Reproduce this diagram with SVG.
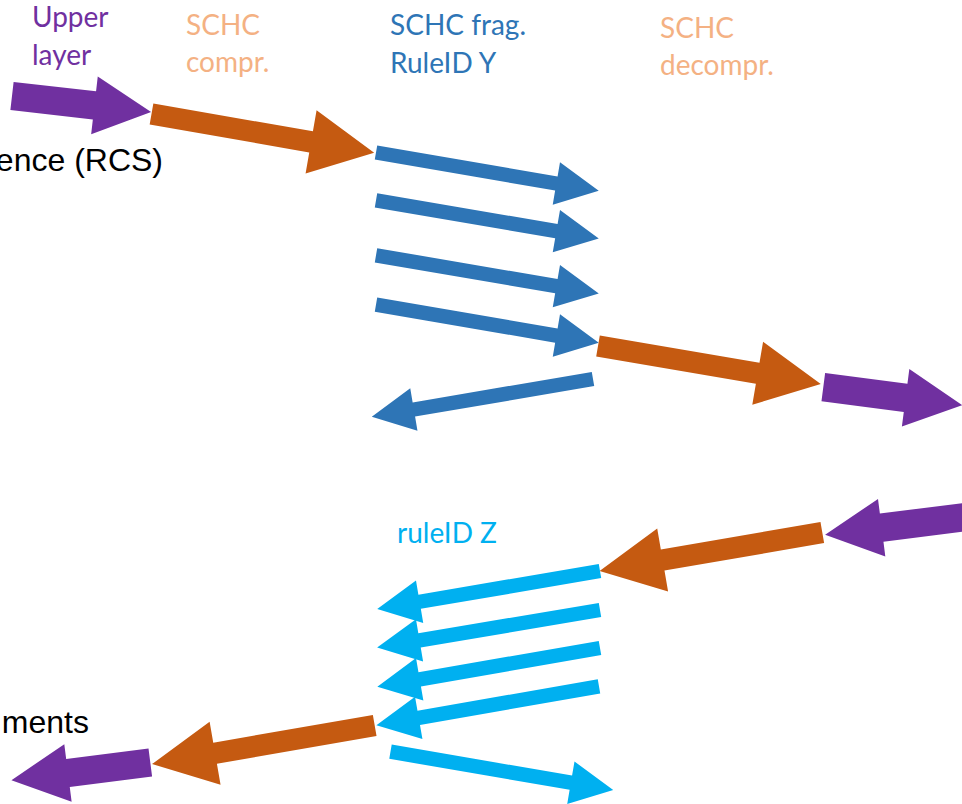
<svg xmlns="http://www.w3.org/2000/svg" xmlns:xlink="http://www.w3.org/1999/xlink" width="962" height="804" viewBox="0 0 962 804">
<style>
.lato{font-family:Lato,"Liberation Sans",sans-serif;font-size:28px}
.arial{font-family:"Liberation Sans",Arial,sans-serif;font-size:32px;fill:#000}
.pu{fill:#7030A0}.or{fill:#C55A11}.bl{fill:#2E75B6}.lb{fill:#00B0F0}
.tpu{fill:#7030A0}.tor{fill:#F4B183}.tbl{fill:#2E75B6}.tlb{fill:#00B0F0}
</style>
<defs>
<polygon id="aP" points="0,-14.2 83,-14.2 83,-29 140,0 83,29 83,14.2 0,14.2"/>
<polygon id="aO" points="0,-10.7 162,-10.7 162,-32 226,0 162,32 162,10.7 0,10.7"/>
<polygon id="aB" points="0,-7.2 183,-7.2 183,-21.5 226,0 183,21.5 183,7.2 0,7.2"/>
</defs>
<rect width="962" height="804" fill="#fff"/>
<g id="labels">
<text class="lato tpu" x="32" y="27">Upper</text>
<text class="lato tpu" x="32" y="65">layer</text>
<text class="lato tor" x="186" y="35">SCHC</text>
<text class="lato tor" x="186" y="72">compr.</text>
<text class="lato tbl" x="390" y="35">SCHC frag.</text>
<text class="lato tbl" x="390" y="73">RuleID Y</text>
<text class="lato tor" x="660" y="38">SCHC</text>
<text class="lato tor" x="660" y="75">decompr.</text>
<text class="lato tlb" x="397" y="543">ruleID Z</text>
<text class="arial" x="163" y="171" text-anchor="end">ence (RCS)</text>
<text class="arial" x="89" y="733" text-anchor="end">ments</text>
</g>
<g id="connectors">
<use href="#aP" class="pu" transform="translate(12,96) rotate(6.52)"/>
<use href="#aO" class="or" transform="translate(151.5,114) rotate(9.9)"/>
<use href="#aB" class="bl" transform="translate(376,152.5) rotate(9.75)"/>
<use href="#aB" class="bl" transform="translate(376,200.3) rotate(9.7)"/>
<use href="#aB" class="bl" transform="translate(376,255.3) rotate(9.7)"/>
<use href="#aB" class="bl" transform="translate(376,304.7) rotate(9.7)"/>
<use href="#aB" class="bl" transform="translate(593,379) rotate(170.33) scale(0.993,1)"/>
<use href="#aO" class="or" transform="translate(598,346) rotate(9.69)"/>
<use href="#aP" class="pu" transform="translate(823.3,387.2) rotate(7.37)"/>
<use href="#aP" class="pu" transform="translate(964,517.2) rotate(172.75)"/>
<use href="#aO" class="or" transform="translate(822.3,532.5) rotate(170.22)"/>
<use href="#aB" class="lb" transform="translate(600,571) rotate(170.32)"/>
<use href="#aB" class="lb" transform="translate(600,610) rotate(170.45)"/>
<use href="#aB" class="lb" transform="translate(600,648) rotate(170.15)"/>
<use href="#aB" class="lb" transform="translate(599,686.3) rotate(170.08)"/>
<use href="#aB" class="lb" transform="translate(390.5,751.7) rotate(9.75)"/>
<use href="#aO" class="or" transform="translate(374.7,725.5) rotate(170.16)"/>
<use href="#aP" class="pu" transform="translate(150.3,762.5) rotate(172.75)"/>
</g>
</svg>
